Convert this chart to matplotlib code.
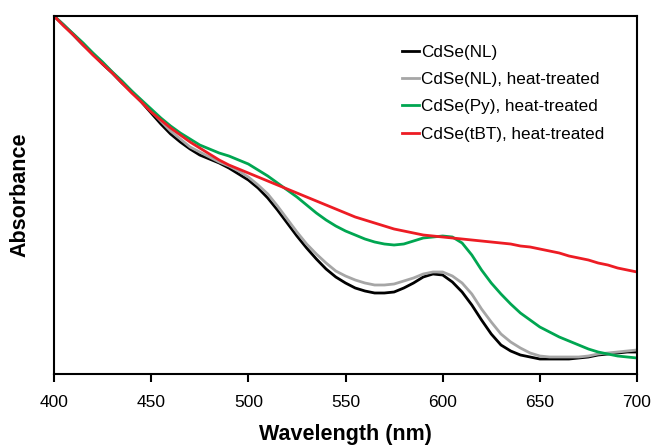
import numpy as np
import matplotlib.pyplot as plt

plt.rcParams['font.family'] = ['Liberation Sans', 'DejaVu Sans']

# wavelength (nm), 5 nm steps
wl = np.arange(400, 701, 5)

# absorbance (arbitrary units, x1000)
nl = [358, 349, 339, 329, 320, 310, 301, 291, 282, 272, 261, 250, 240, 232, 225,
      219, 215, 211, 206, 200, 194, 186, 176, 164, 151, 138, 126, 115, 105, 97,
      91, 86, 83, 81, 81, 82, 86, 91, 97, 100, 99, 92, 82, 69, 54,
      40, 29, 23, 19, 17, 15, 15, 15, 15, 16, 17, 19, 20, 21, 22, 22]

nl_heat = [358, 349, 340, 330, 321, 311, 302, 292, 283, 273, 263, 253, 243, 235, 227,
           222, 217, 212, 208, 203, 197, 189, 180, 168, 155, 142, 130, 120, 111, 103,
           98, 94, 91, 89, 89, 90, 93, 96, 100, 102, 102, 98, 91, 80, 65,
           52, 40, 32, 26, 21, 18, 17, 17, 17, 17, 18, 20, 21, 22, 23, 24]

py_heat = [358, 349, 340, 331, 321, 312, 302, 293, 283, 274, 265, 256, 248, 241, 235,
           229, 225, 221, 218, 214, 210, 204, 198, 191, 184, 177, 169, 161, 154, 148,
           143, 139, 135, 132, 130, 129, 130, 133, 136, 137, 138, 137, 131, 119, 104,
           91, 80, 70, 61, 54, 47, 42, 37, 33, 29, 25, 22, 20, 18, 17, 16]

tbt_heat = [358, 348, 339, 329, 319, 310, 301, 291, 281, 272, 262, 254, 246, 239, 232,
            226, 220, 214, 209, 205, 201, 197, 193, 189, 185, 181, 177, 173, 169, 165,
            161, 157, 154, 151, 148, 145, 143, 141, 139, 138, 137, 136, 135, 134, 133,
            132, 131, 130, 128, 127, 125, 123, 121, 118, 116, 114, 111, 109, 106, 104, 102]

labels = ['CdSe(NL)', 'CdSe(NL), heat-treated', 'CdSe(Py), heat-treated',
          'CdSe(tBT), heat-treated']
colors = ['#000000', '#a6a6a6', '#00a651', '#ed1c24']

fig = plt.figure(figsize=(6.54, 4.45), dpi=100)
ax = fig.add_axes([54 / 654, 71 / 445, 583 / 654, 358 / 445])

for ys, lab, c in zip([nl, nl_heat, py_heat, tbt_heat], labels, colors):
    ax.plot(wl, np.array(ys) / 1000, color=c, lw=2.0, label=lab,
            solid_joinstyle='round')

ax.set_xlim(400, 700)
ax.set_ylim(0, 0.358)
ax.set_xticks(np.arange(400, 701, 50))
ax.set_yticks([])
ax.tick_params(axis='x', direction='out', length=6, width=1.5, labelsize=12.5, pad=9)
for s in ax.spines.values():
    s.set_linewidth(1.5)

ax.set_xlabel('Wavelength (nm)', fontsize=15.5, fontweight='bold', labelpad=10)
ax.set_ylabel('Absorbance', fontsize=15.5, fontweight='bold', labelpad=17)

ax.legend(loc='upper left', bbox_to_anchor=(0.597, 0.92), frameon=False,
          fontsize=12.3, handlelength=1.0, handletextpad=0.12, labelspacing=0.72,
          borderpad=0, borderaxespad=0)

fig.savefig('out.png', dpi=100)
